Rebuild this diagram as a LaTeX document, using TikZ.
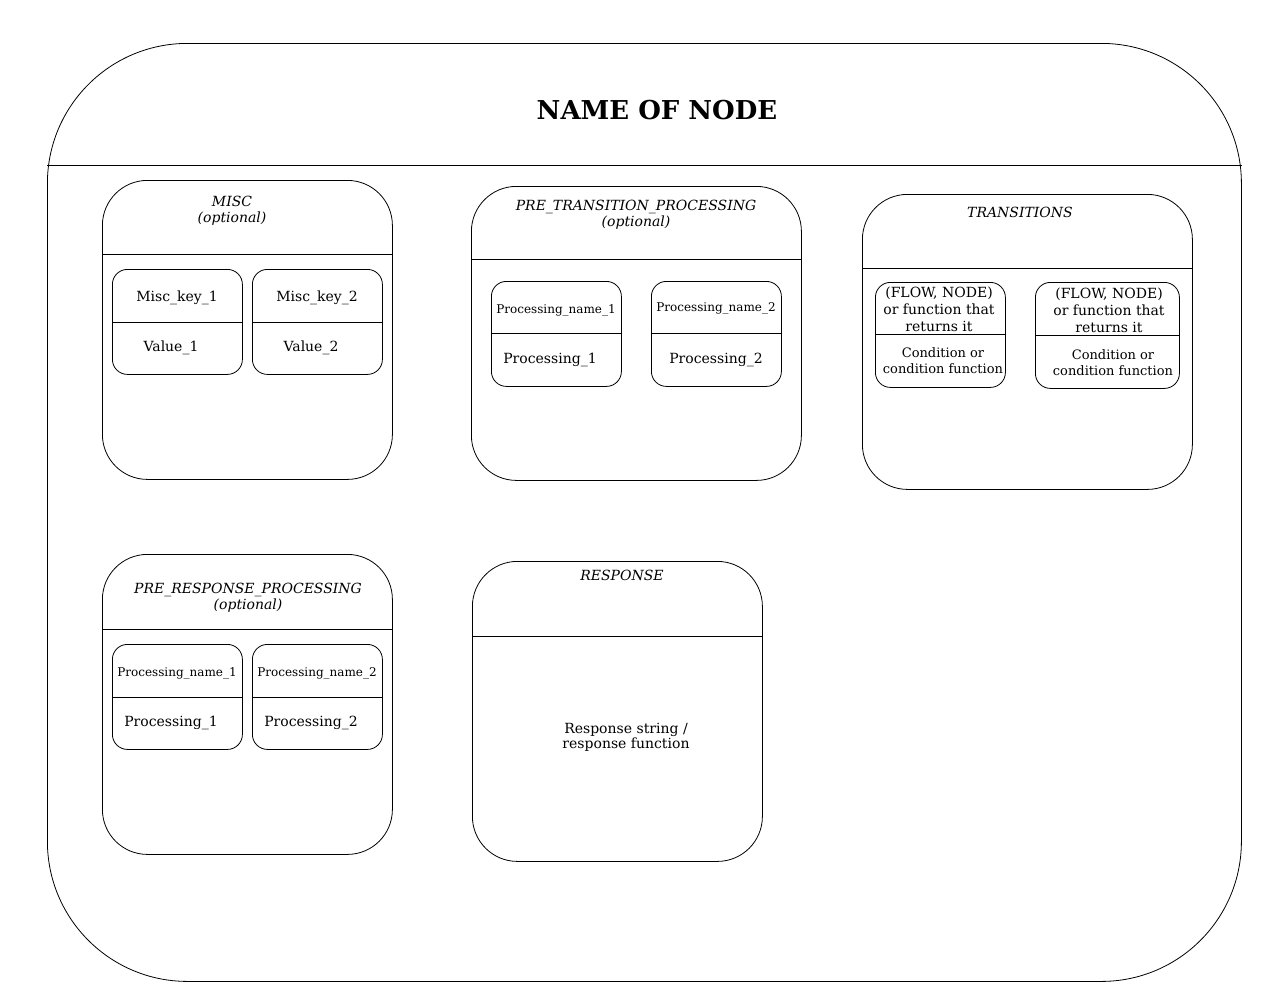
\documentclass[tikz,border=0pt]{standalone}
\usepackage{fontspec}
\setmainfont{DejaVu Serif}

\begin{document}
\begin{tikzpicture}[x=1pt,y=-1pt,line join=round,line width=0.8pt,
		lane/.style={draw,rounded corners=45,anchor=north west,inner sep=0},
		cell/.style={draw,rounded corners=15,anchor=north west,inner sep=0,minimum width=130,minimum height=105},
		head/.style={align=center,inner sep=0,yshift=-2pt,font=\fontsize{14}{16}\selectfont\itshape},
		txt/.style={align=center,inner sep=0,yshift=-2pt,font=\fontsize{14}{17}\selectfont},
		small/.style={align=center,inner sep=0,yshift=-2pt,font=\fontsize{12}{16}\selectfont},
		cond/.style={align=center,inner sep=0,yshift=-1pt,font=\fontsize{13}{16}\selectfont}]
		\def\split#1#2{\draw (#1.west |- 0,#2) -- (#1.east |- 0,#2);}
		\useasboundingbox (0,0) rectangle (1274,994);
		
		% outer node
		\node[draw,rounded corners=140,anchor=north west,inner sep=0,minimum width=1194,minimum height=938] (node) at (47,43) {};
		\split{node}{165}
		\node[font=\fontsize{26}{30}\selectfont\bfseries] (name) at (657,110) {NAME OF NODE};
		
		% misc
		\node[lane,minimum width=290,minimum height=299] (misc) at (102,180) {};
		\split{misc}{254}
		\node[head] (misc t) at (232,209) {MISC\\(optional)};
		\node[cell] (mk1) at (112,269) {};
		\split{mk1}{322}
		\node[txt] at (177,296) {Misc\_key\_1};
		\node[txt] at (171,346) {Value\_1};
		\node[cell] (mk2) at (252,269) {};
		\split{mk2}{322}
		\node[txt] at (317,296) {Misc\_key\_2};
		\node[txt] at (311,346) {Value\_2};
		
		% pre transition processing
		\node[lane,minimum width=330,minimum height=294] (pretr) at (471,186) {};
		\split{pretr}{259}
		\node[head] (pretr t) at (636,213) {PRE\_TRANSITION\_PROCESSING\\(optional)};
		\node[cell] (pt1) at (491,281) {};
		\split{pt1}{333}
		\node[small] at (556,308) {Processing\_name\_1};
		\node[txt] at (550,358) {Processing\_1};
		\node[cell] (pt2) at (651,281) {};
		\split{pt2}{333}
		\node[small] at (716,306) {Processing\_name\_2};
		\node[txt] at (716,358) {Processing\_2};
		
		% transitions
		\node[lane,minimum width=330,minimum height=295] (trans) at (862,194) {};
		\split{trans}{268}
		\node[head] (trans t) at (1020,210) {TRANSITIONS};
		\node[cell] (tr1) at (875,282) {};
		\split{tr1}{334}
		\node[txt,yshift=2pt] at (939,309) {(FLOW, NODE)\\or function that\\returns it};
		\node[cond] at (943,360) {Condition or\\condition function};
		\node[cell,minimum width=144,minimum height=106] (tr2) at (1035,282) {};
		\split{tr2}{335}
		\node[txt,yshift=2pt] at (1109,310) {(FLOW, NODE)\\or function that\\returns it};
		\node[cond] at (1113,362) {Condition or\\condition function};
		
		% pre response processing
		\node[lane,minimum width=290,minimum height=300] (preresp) at (102,554) {};
		\split{preresp}{629}
		\node[head] (preresp t) at (248,596) {PRE\_RESPONSE\_PROCESSING\\(optional)};
		\node[cell] (pr1) at (112,644) {};
		\split{pr1}{697}
		\node[small] at (177,671) {Processing\_name\_1};
		\node[txt] at (171,721) {Processing\_1};
		\node[cell] (pr2) at (252,644) {};
		\split{pr2}{697}
		\node[small] at (317,671) {Processing\_name\_2};
		\node[txt] at (311,721) {Processing\_2};
		
		% response
		\node[lane,minimum width=290,minimum height=300] (resp) at (472,561) {};
		\split{resp}{636}
		\node[head] (resp t) at (622,573) {RESPONSE};
		\node[txt,font=\fontsize{14}{15}\selectfont] (resp s) at (626,735) {Response string /\\response function};
\end{tikzpicture}
\end{document}
